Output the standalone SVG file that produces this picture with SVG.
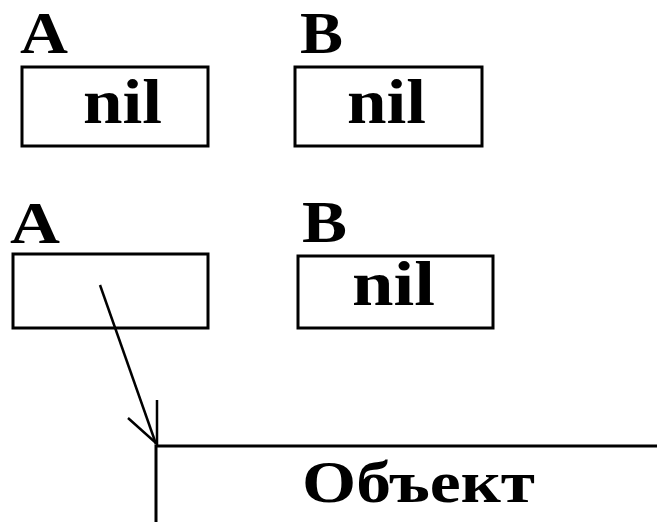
<svg xmlns="http://www.w3.org/2000/svg" width="657" height="522" viewBox="0 0 657 522">
<style>
.box{fill:#fff;stroke:#000;stroke-width:3}
.t{font-family:"Liberation Serif","DejaVu Serif",serif;font-weight:bold;fill:#000}
.lbl{font-size:60px}
.val{font-size:64px}
.con{fill:none;stroke:#000;stroke-width:2.5}
</style>
<rect width="657" height="522" fill="#fff"/>
<g id="A1">
<text class="t lbl" x="20" y="53" textLength="48" lengthAdjust="spacingAndGlyphs">A</text>
<rect class="box" x="22" y="67" width="186" height="79"/>
<text class="t val" x="83" y="123" textLength="79" lengthAdjust="spacingAndGlyphs">nil</text>
</g>
<g id="B1">
<text class="t lbl" x="300" y="53" textLength="43" lengthAdjust="spacingAndGlyphs">B</text>
<rect class="box" x="295" y="67" width="187" height="79"/>
<text class="t val" x="347" y="123" textLength="79" lengthAdjust="spacingAndGlyphs">nil</text>
</g>
<g id="A2">
<text class="t lbl" x="10" y="243" textLength="50" lengthAdjust="spacingAndGlyphs">A</text>
<rect class="box" x="13" y="254" width="195" height="74"/>
</g>
<g id="B2">
<text class="t lbl" x="302" y="242" textLength="45" lengthAdjust="spacingAndGlyphs">B</text>
<rect class="box" x="298" y="256" width="195" height="72"/>
<text class="t val" x="352" y="305" textLength="83" lengthAdjust="spacingAndGlyphs">nil</text>
</g>
<g id="Obj">
<rect class="box" x="156" y="446" width="520" height="100"/>
<text class="t" style="font-size:60px" x="302" y="502" textLength="233" lengthAdjust="spacingAndGlyphs">Объект</text>
</g>
<g id="connectors">
<line class="con" x1="100" y1="285" x2="156" y2="444"/>
<polyline class="con" points="157,400 157,444 128,418"/>
</g>
</svg>
